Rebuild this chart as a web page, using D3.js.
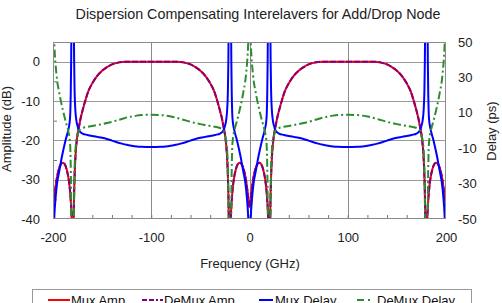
<!DOCTYPE html>
<html>
<head>
<meta charset="utf-8">
<script src="https://cdn.jsdelivr.net/npm/d3@7"></script>
<style>
  body { margin: 0; background: #fff; }
  svg { display: block; font-family: "Liberation Sans", Arial, sans-serif; }
</style>
</head>
<body>
<svg id="chart" width="502" height="303"></svg>
<script>
// frequency samples (GHz) for the amplitude curves
var ampFreq = [-200,-198,-196,-194,-192,-190,-188,-186,-184,-183,-182,-181,-180.4,-179.7,-179.2,-178.7,-178,-177,-176,-175,-173.5,-172,-170,-167,-164,-160,-155,-150,-145,-140,-135,-130,-125,-100,
  -75,-70,-65,-60,-55,-50,-45,-40,-36,-33,-30,-28,-26.5,-25,-24,-23,-22,-21.3,-20.8,-20.3,-19.6,-19,-18,-17,-16,-14,-12,-10,-8,-6,-4,-2,0,
  2,4,6,8,10,12,14,16,17,18,19,19.6,20.3,20.8,21.3,22,23,24,25,26.5,28,30,33,36,40,45,50,55,60,65,70,75,100,
  125,130,135,140,145,150,155,160,164,167,170,172,173.5,175,176,177,178,178.7,179.2,179.7,180.4,181,182,183,184,186,188,190,192,194,196,198,200];

// amplitude, dB (left axis)
var muxAmpDb = [-37,-33,-29.5,-27.3,-26.1,-25.7,-26.1,-27.5,-30,-32,-35,-40,-55,-60,-45,-36,-29,-23.5,-20.5,-18.5,-16.5,-14.5,-12.5,-9.8,-7.5,-5.5,-3.6,-2.3,-1.4,-0.7,-0.3,-0.08,0,0,
  0,-0.08,-0.3,-0.7,-1.4,-2.3,-3.6,-5.5,-7.5,-9.8,-12.5,-14.5,-16.5,-18.5,-20.5,-23.5,-29,-36,-45,-60,-55,-40,-35,-32,-30,-27.5,-26.1,-25.7,-26.1,-27.3,-29.5,-33,-37,
  -33,-29.5,-27.3,-26.1,-25.7,-26.1,-27.5,-30,-32,-35,-40,-55,-60,-45,-36,-29,-23.5,-20.5,-18.5,-16.5,-14.5,-12.5,-9.8,-7.5,-5.5,-3.6,-2.3,-1.4,-0.7,-0.3,-0.08,0,0,
  0,-0.08,-0.3,-0.7,-1.4,-2.3,-3.6,-5.5,-7.5,-9.8,-12.5,-14.5,-16.5,-18.5,-20.5,-23.5,-29,-36,-45,-60,-55,-40,-35,-32,-30,-27.5,-26.1,-25.7,-26.1,-27.3,-29.5,-33,-37];
// the demux amplitude lies right on top of the mux one in the picture
var demuxAmpDb = muxAmpDb;

// frequency samples (GHz) for the delay curves
var delayFreq = [-200,-199.3,-198.5,-197.5,-196.5,-195.5,-194,-192.5,-191,-189.5,-188,-186.5,-185,-184,-183,-182.4,-181.9,-181.5,-181.1,-180,-178.9,-178.5,-178,-177.3,-176.3,-175,-173.5,-172,-170,-165,-160,-155,-150,-145,-140,-135,-130,-125,-120,-115,-110,-100,
  -90,-85,-80,-75,-70,-65,-60,-55,-50,-45,-40,-35,-30,-28,-26.5,-25,-23.7,-22.7,-22,-21.5,-21.1,-20,-18.9,-18.5,-18.1,-17.6,-17,-16,-15,-13.5,-12,-10.5,-9,-7.5,-6,-4.5,-3.5,-2.5,-1.5,-0.7,0,
  0.7,1.5,2.5,3.5,4.5,6,7.5,9,10.5,12,13.5,15,16,17,17.6,18.1,18.5,18.9,20,21.1,21.5,22,22.7,23.7,25,26.5,28,30,35,40,45,50,55,60,65,70,75,80,85,90,100,
  110,115,120,125,130,135,140,145,150,155,160,165,170,172,173.5,175,176.3,177.3,178,178.5,178.9,180,181.1,181.5,181.9,182.4,183,184,185,186.5,188,189.5,191,192.5,194,195.5,196.5,197.5,198.5,199.3,200];

// delay, ps (right axis)
var muxDelayPs = [-100,-60,-47,-39,-33,-28.5,-24,-19.5,-15,-11,-7.3,-4,-1,1.5,5,10,22,40,70,150,70,40,22,12,6,2.5,0,-1,-1.7,-2.5,-3.1,-3.6,-4.1,-4.8,-5.7,-6.6,-7.4,-8.1,-8.6,-9.0,-9.2,-9.3,
  -9.2,-9.0,-8.6,-8.1,-7.4,-6.6,-5.7,-4.8,-4.1,-3.6,-3.1,-2.5,-1.7,-1,0,2.5,6,12,22,40,70,150,70,40,22,10,5,1.5,-1,-4,-7.3,-11,-15,-19.5,-24,-28.5,-33,-39,-47,-60,-100,
  -60,-47,-39,-33,-28.5,-24,-19.5,-15,-11,-7.3,-4,-1,1.5,5,10,22,40,70,150,70,40,22,12,6,2.5,0,-1,-1.7,-2.5,-3.1,-3.6,-4.1,-4.8,-5.7,-6.6,-7.4,-8.1,-8.6,-9.0,-9.2,-9.3,
  -9.2,-9.0,-8.6,-8.1,-7.4,-6.6,-5.7,-4.8,-4.1,-3.6,-3.1,-2.5,-1.7,-1,0,2.5,6,12,22,40,70,150,70,40,22,10,5,1.5,-1,-4,-7.3,-11,-15,-19.5,-24,-28.5,-33,-39,-47,-60,-100];

var demuxDelayPs = [100,60,47,38,32,27,22.5,18,14,10.5,7,4,1,-1.5,-5,-10,-22,-40,-70,-150,-70,-40,-22,-12,-6,-2.5,0,0.8,1.4,2.1,2.6,3.1,3.6,4.2,4.9,5.7,6.5,7.3,7.9,8.4,8.7,8.9,
  8.7,8.4,7.9,7.3,6.5,5.7,4.9,4.2,3.6,3.1,2.6,2.1,1.4,0.8,0,-2.5,-6,-12,-22,-40,-70,-150,-70,-40,-22,-10,-5,-1.5,1,4,7,10.5,14,18,22.5,27,32,38,47,60,100,
  60,47,38,32,27,22.5,18,14,10.5,7,4,1,-1.5,-5,-10,-22,-40,-70,-150,-70,-40,-22,-12,-6,-2.5,0,0.8,1.4,2.1,2.6,3.1,3.6,4.2,4.9,5.7,6.5,7.3,7.9,8.4,8.7,8.9,
  8.7,8.4,7.9,7.3,6.5,5.7,4.9,4.2,3.6,3.1,2.6,2.1,1.4,0.8,0,-2.5,-6,-12,-22,-40,-70,-150,-70,-40,-22,-10,-5,-1.5,1,4,7,10.5,14,18,22.5,27,32,38,47,60,100];

var freqTicks = [-200, -100, 0, 100, 200];
var ampTicks = [0, -10, -20, -30, -40];
var delayTicks = [50, 30, 10, -10, -30, -50];

var legendItems = [
  {name: "Mux Amp", color: "#ff0000", dash: null, x: 48, len: 22, gap: 23},
  {name: "DeMux Amp", color: "#800080", dash: "5,2,5,2,2,2", x: 142, len: 21, gap: 22},
  {name: "Mux Delay", color: "#0000ff", dash: null, x: 259, len: 14, gap: 16},
  {name: "DeMux Delay", color: "#2e8b2e", dash: "7,4,2,4", x: 357, len: 16, gap: 20}
];

var plotLeft = 53, plotRight = 446, plotTop = 42, plotBottom = 219;

var svg = d3.select("#chart");

var x = d3.scaleLinear().domain([-200, 200]).range([plotLeft, plotRight]);
var yAmp = d3.scaleLinear().domain([-40, 5]).range([plotBottom, plotTop]);
var yDelay = d3.scaleLinear().domain([-50, 50]).range([plotBottom, plotTop]);

svg.append("defs").append("clipPath").attr("id", "plot-clip")
  .append("rect")
  .attr("x", plotLeft).attr("y", plotTop)
  .attr("width", plotRight - plotLeft).attr("height", plotBottom - plotTop);

// title
svg.append("text")
  .attr("x", 258).attr("y", 19)
  .attr("text-anchor", "middle")
  .style("font-size", "14.3px")
  .style("fill", "#222")
  .text("Dispersion Compensating Interelavers for Add/Drop Node");

// grid
var grid = svg.append("g");
grid.selectAll("line.h")
  .data(ampTicks.slice(0, 4))
  .enter().append("line")
  .attr("x1", plotLeft).attr("x2", plotRight)
  .attr("y1", function(d){ return Math.round(yAmp(d)) + 0.5; })
  .attr("y2", function(d){ return Math.round(yAmp(d)) + 0.5; })
  .attr("stroke", "#9a9a9a");
grid.selectAll("line.v")
  .data([-100, 0, 100])
  .enter().append("line")
  .attr("y1", plotTop).attr("y2", plotBottom)
  .attr("x1", function(d){ return Math.round(x(d)) + 0.5; })
  .attr("x2", function(d){ return Math.round(x(d)) + 0.5; })
  .attr("stroke", "#8a8a8a");

// axes (ticks point inward, labels drawn by the axis)
var xAxis = d3.axisBottom(x).tickValues(freqTicks).tickSize(0).tickPadding(14).tickFormat(String);
var xMinor = d3.axisBottom(x).tickValues(d3.range(-180, 200, 20)).tickSize(-4).tickFormat("");
var yAxisL = d3.axisLeft(yAmp).tickValues(ampTicks).tickSize(0).tickPadding(13).tickFormat(String);
var yMinorL = d3.axisLeft(yAmp).tickValues([-5, -15, -25, -35]).tickSize(-4).tickFormat("");
var yAxisR = d3.axisRight(yDelay).tickValues(delayTicks).tickSize(0).tickPadding(12).tickFormat(String);

function styleAxis(g) {
  g.attr("font-family", null).attr("font-size", null);
  g.select(".domain").remove();
  g.selectAll("line").attr("stroke", "#777");
  g.selectAll("text").style("font-size", "13px").style("fill", "#222");
}

svg.append("g").attr("transform", "translate(0," + plotBottom + ")").call(xAxis).call(styleAxis);
svg.append("g").attr("transform", "translate(0," + plotBottom + ")").call(xMinor).call(styleAxis);
svg.append("g").attr("transform", "translate(" + plotLeft + ",0)").call(yAxisL).call(styleAxis);
svg.append("g").attr("transform", "translate(" + plotLeft + ",0)").call(yMinorL).call(styleAxis);
svg.append("g").attr("transform", "translate(" + plotRight + ",0)").call(yAxisR).call(styleAxis);

// axis titles
svg.append("text")
  .attr("x", 250).attr("y", 268)
  .attr("text-anchor", "middle")
  .style("font-size", "13px").style("fill", "#222")
  .text("Frequency (GHz)");
svg.append("text")
  .attr("transform", "translate(11,129) rotate(-90)")
  .attr("text-anchor", "middle")
  .style("font-size", "13px").style("fill", "#222")
  .text("Amplitude (dB)");
svg.append("text")
  .attr("transform", "translate(496,131) rotate(-90)")
  .attr("text-anchor", "middle")
  .style("font-size", "13px").style("fill", "#222")
  .text("Delay (ps)");

// curves
function makeLine(freqs, values, yScale) {
  var pts = freqs.map(function(f, i){ return [f, values[i]]; });
  return d3.line()
    .x(function(d){ return x(d[0]); })
    .y(function(d){ return yScale(d[1]); })
    .curve(d3.curveMonotoneX)(pts);
}

var curves = svg.append("g").attr("clip-path", "url(#plot-clip)");

curves.append("path")
  .attr("d", makeLine(ampFreq, muxAmpDb, yAmp))
  .attr("fill", "none").attr("stroke", "#ff0000").attr("stroke-width", 2);
curves.append("path")
  .attr("d", makeLine(ampFreq, demuxAmpDb, yAmp))
  .attr("fill", "none").attr("stroke", "#800080").attr("stroke-width", 2)
  .attr("stroke-dasharray", "6,2");
curves.append("path")
  .attr("d", makeLine(delayFreq, muxDelayPs, yDelay))
  .attr("fill", "none").attr("stroke", "#0000ff").attr("stroke-width", 2);
curves.append("path")
  .attr("d", makeLine(delayFreq, demuxDelayPs, yDelay))
  .attr("fill", "none").attr("stroke", "#2e8b2e").attr("stroke-width", 2)
  .attr("stroke-dasharray", "8,3,2,3");

// plot frame
svg.append("rect")
  .attr("x", plotLeft + 0.5).attr("y", plotTop + 0.5)
  .attr("width", plotRight - plotLeft - 1).attr("height", plotBottom - plotTop - 1)
  .attr("fill", "none").attr("stroke", "#8a8a8a");

// legend (cut off by the bottom of the picture)
var legend = svg.append("g");
legend.append("rect")
  .attr("x", 32.5).attr("y", 289.5)
  .attr("width", 439).attr("height", 30)
  .attr("fill", "#fff").attr("stroke", "#999");

var item = legend.selectAll("g.item")
  .data(legendItems)
  .enter().append("g")
  .attr("transform", function(d){ return "translate(" + d.x + ",300)"; });
item.append("line")
  .attr("x1", 0).attr("x2", function(d){ return d.len; })
  .attr("stroke", function(d){ return d.color; })
  .attr("stroke-width", 2)
  .attr("stroke-dasharray", function(d){ return d.dash; });
item.append("text")
  .attr("x", function(d){ return d.gap; }).attr("y", 5)
  .style("font-size", "13px").style("fill", "#111")
  .text(function(d){ return d.name; });
</script>
</body>
</html>
